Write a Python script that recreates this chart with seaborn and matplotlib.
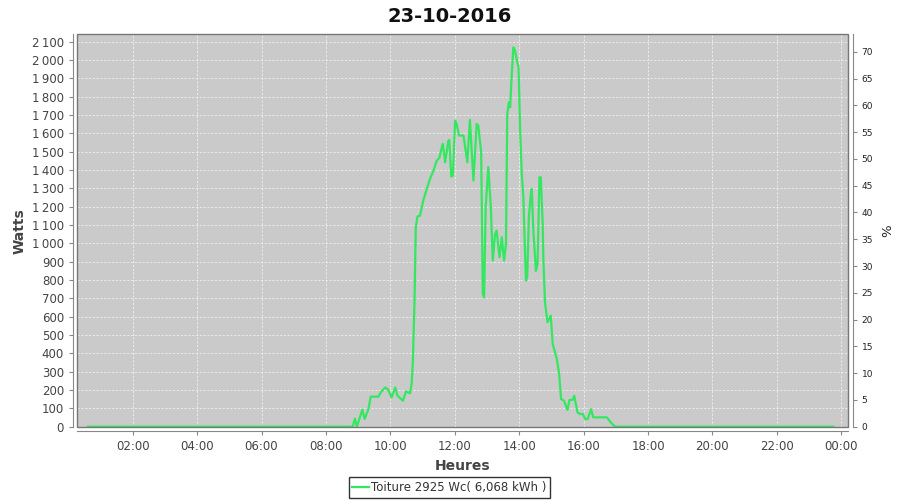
import numpy as np
import pandas as pd
import matplotlib
matplotlib.use("Agg")
import matplotlib.pyplot as plt
import seaborn as sns
from matplotlib.ticker import FuncFormatter, MultipleLocator
from matplotlib.patches import Rectangle
from matplotlib.lines import Line2D

# production data (hours of day, watts)
hours = [0.61, 8.81, 8.83, 8.90, 8.96, 9.13, 9.20, 9.32, 9.39, 9.63, 9.70, 9.84, 9.92,
         10.04, 10.15, 10.22, 10.39, 10.49, 10.61, 10.66, 10.70, 10.75, 10.79, 10.84,
         10.92, 11.02, 11.13, 11.23, 11.34, 11.44, 11.52, 11.60, 11.63, 11.70, 11.80,
         11.83, 11.89, 11.94, 12.01, 12.06, 12.13, 12.27, 12.39, 12.47, 12.58, 12.68,
         12.73, 12.82, 12.87, 12.91, 12.96, 13.04, 13.12, 13.18, 13.25, 13.30, 13.39,
         13.46, 13.53, 13.59, 13.63, 13.68, 13.72, 13.77, 13.82, 13.87, 13.93, 13.98,
         14.03, 14.08, 14.13, 14.16, 14.21, 14.25, 14.30, 14.36, 14.39, 14.44, 14.52,
         14.57, 14.63, 14.67, 14.73, 14.75, 14.80, 14.88, 14.98, 15.04, 15.17, 15.24,
         15.30, 15.39, 15.50, 15.56, 15.66, 15.71, 15.81, 15.89, 15.98, 16.05, 16.13,
         16.23, 16.30, 16.46, 16.72, 16.84, 16.98, 23.75]
watts = [0, 0, 0, 44, 0, 93, 42, 96, 164, 164, 187, 214, 205,
         160, 214, 169, 142, 193, 182, 233, 360, 687, 1087, 1146,
         1151, 1233, 1297, 1351, 1397, 1451, 1466, 1524, 1542, 1442, 1560,
         1564, 1364, 1369, 1669, 1651, 1588, 1588, 1442, 1673, 1342, 1651,
         1642, 1496, 724, 705, 1196, 1415, 1196, 906, 1051, 1069, 924,
         1033, 906, 997, 1705, 1769, 1742, 1924, 2069, 2051, 1997, 1960,
         1615, 1378, 1251, 1069, 797, 815, 1142, 1269, 1297, 1069, 850,
         887, 1360, 1360, 1105, 924, 680, 569, 606, 451, 369, 288,
         151, 142, 91, 146, 146, 169, 78, 69, 69, 42, 42,
         96, 51, 51, 51, 24, 0, 0]

title = "23-10-2016"
legend_label = "Toiture 2925 Wc( 6,068 kWh )"
x_ticks = [2, 4, 6, 8, 10, 12, 14, 16, 18, 20, 22, 24]

df = pd.DataFrame({"h": hours, "w": watts})

txt = "#444444"
green = "#33e860"

fig = plt.figure(figsize=(9, 5), dpi=100)
ax = fig.add_axes([0.0859, 0.1454, 0.8567, 0.786])
ax.set_facecolor("#cacaca")

sns.lineplot(data=df, x="h", y="w", ax=ax, color=green, lw=1.6,
             estimator=None, sort=False, zorder=3)

ax.set_xlim(0.28, 24.22)
ax.set_ylim(-3.3, 2140)
ax.set_xticks(x_ticks)
ax.xaxis.set_major_formatter(FuncFormatter(lambda v, p: "%02d:00" % (int(round(v)) % 24)))
ax.yaxis.set_major_locator(MultipleLocator(100))
ax.yaxis.set_major_formatter(FuncFormatter(lambda v, p: "{:,}".format(int(v)).replace(",", "\u202f")))

ax.grid(True, color="#f2f2f2", lw=0.55, ls=(0, (3, 2)), zorder=1)
ax.set_axisbelow(True)

for s in ["top", "right"]:
    ax.spines[s].set_visible(False)
for s in ["left", "bottom"]:
    ax.spines[s].set_position(("outward", 3))
    ax.spines[s].set_color("#888888")
ax.tick_params(axis="both", colors="#888888", labelcolor=txt, labelsize=8.5, length=3, width=0.8)

ax.add_patch(Rectangle((0, 0), 1, 1, transform=ax.transAxes, fill=False,
                       edgecolor="#777777", lw=1, clip_on=False, zorder=5))

ax.set_xlabel("Heures", fontsize=10, fontweight="bold", color=txt, labelpad=4)
ax.set_ylabel("Watts", fontsize=10, fontweight="bold", color=txt, labelpad=4)

ax2 = ax.twinx()
ax2.set_ylim(-0.1, 73.25)
ax2.yaxis.set_major_locator(MultipleLocator(5))
for s in ["top", "left", "bottom"]:
    ax2.spines[s].set_visible(False)
ax2.spines["right"].set_position(("outward", 3))
ax2.spines["right"].set_color("#888888")
ax2.tick_params(axis="y", colors="#888888", labelcolor="#222222", labelsize=6.5, length=3, width=0.8)
ax2.set_ylabel("%", fontsize=9.5, color="#222222", labelpad=6)

fig.suptitle(title, x=0.5, y=0.985, fontsize=14, fontweight="bold", color="#111111")

handle = Line2D([], [], color=green, lw=1.6)
leg = fig.legend([handle], [legend_label], loc="center", bbox_to_anchor=(0.4994, 0.025),
                 frameon=True, fancybox=False, edgecolor="black", fontsize=8.5,
                 handlelength=1.4, handletextpad=0.2, borderpad=0.3, borderaxespad=0)
leg.get_frame().set_linewidth(1)
for t in leg.get_texts():
    t.set_color("#333333")

fig.savefig("out.png", dpi=100)
